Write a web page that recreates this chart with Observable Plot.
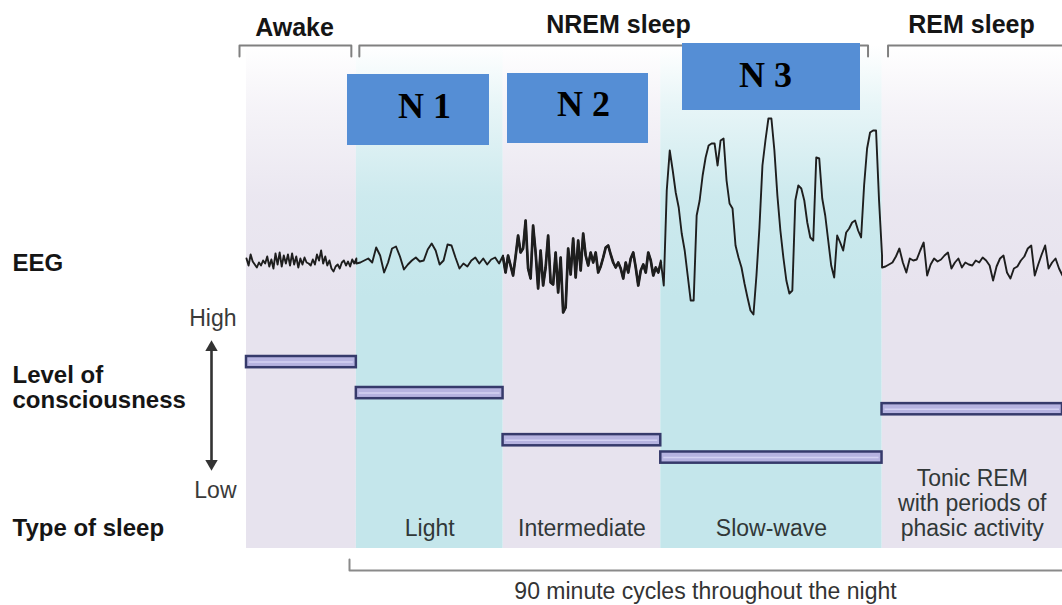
<!DOCTYPE html>
<html><head><meta charset="utf-8">
<script src="https://cdn.jsdelivr.net/npm/d3@7"></script>
<script src="https://cdn.jsdelivr.net/npm/@observablehq/plot@0.6"></script>
<style>html,body{margin:0;padding:0;background:#fff;} #chart svg{display:block;}</style>
</head><body><div id="chart"></div>
<script>
// ---------- data ----------
const stageNames = ["Awake", "Light", "Intermediate", "Slow-wave", "REM"];
const stageStartMin = [-14, 0, 18.7, 38.8, 67];   // minutes into the 90-minute cycle
const stageEndMin = [0, 18.7, 38.8, 67, 90];
const stageTone = ["lav", "cyan", "lav", "cyan", "lav"];
const consciousnessLevel = [85, 60, 22, 8, 47];  // 0 = Low, 100 = High
const sleepTypeLabels = ["", "Light", "Intermediate", "Slow-wave", "Tonic REM\nwith periods of\nphasic activity"];

const groupLabels = ["Awake", "NREM sleep", "REM sleep"];
const groupFirstStage = [0, 1, 4];
const groupLastStage = [0, 3, 4];

const phaseLabels = ["N 1", "N 2", "N 3"];
const rowLabels = ["EEG", "Level of\nconsciousness", "Type of sleep"];
const levelLabels = ["High", "Low"];
const cycleNote = "90 minute cycles throughout the night";

// EEG amplitude per stage (evenly spaced samples, arbitrary µV-like units, up = positive)
const eegAwake = [4,-3,8,1,-2,-5,0,-3,2,-1,6,-4,3,-6,9,-2,10,-4,7,-1,8,-3,9,-2,6,-5,4,-2,5,0,-1,-3,3,-2,8,2,12,-1,6,-3,2,-6,-9,-4,-2,-6,0,2,-3,1,-4,3,-1,4];
const eegLight = [-1,0,2,4,0,15,7,-10,0,14,16,6,-7,-2,2,5,1,2,13,19,12,-2,2,18,17,5,-6,-1,-4,2,5,-1,4,-2,3,5,-1,7];
const eegN2 = [5,-10,7,-3,-13,6,27,10,14,42,-6,-16,37,10,-26,12,-23,-5,27,-20,-22,10,-30,5,-50,-45,14,-12,24,-15,22,-8,29,7,-3,10,0,10,-10,-4,5,15,17,8,0,-5,0,-6,-16,0,-10,4,10,-5,-23,-8,-2,-10,10,2,-13,-5,-10,0];
const eegN3 = [2,-23,72,112,92,70,55,29,12,-13,-38,-38,47,62,87,105,117,119,119,97,122,124,82,59,54,17,5,-5,-21,-35,-48,-52,-13,35,97,122,144,144,112,67,32,5,-18,-31,-28,62,77,74,62,40,25,22,105,104,64,47,22,-3,-15,27,20,12,30,34,40,42,32,25,77,114,130,132,132,62,7];
const eegREM = [-5,-4,-2,0,6,14,0,-10,4,2,3,12,20,-13,-2,4,1,3,7,10,-6,0,4,-5,0,-2,-3,2,0,5,2,-3,-18,-4,4,7,-10,-16,-6,-4,2,6,14,17,-13,-2,8,17,-6,0,4,-6,-13];

// ---------- layout helpers (pixel positions -> scale units) ----------
const PXPM = 816 / 104;
const X = px => -14 + (px - 246) / PXPM;
const Y = px => (467 - px) * 100 / 124;
const EEG_BASE = Y(262);
const EEG_GAIN = 100 / 124;
const BAR_HALF = 5.6 * 100 / 124;

const stageData = stageNames.map((name, i) => ({
  name, start: stageStartMin[i], end: stageEndMin[i], tone: stageTone[i],
  level: consciousnessLevel[i], type: sleepTypeLabels[i]
}));

const eegSeries = [eegAwake, eegLight, eegN2, eegN3, eegREM];
const eegPoints = eegSeries.flatMap((vals, s) => vals.map((v, i) => ({
  stage: s,
  t: stageStartMin[s] + (stageEndMin[s] - stageStartMin[s]) * i / (vals.length - 1),
  v
})));

// brackets
const bracketInsetPx = [[-7, -5], [3, -14], [6, 4]];
const bracketOpenRight = [false, false, true];
const groupLabelPx = [294, 618, 971];
const bracketPts = groupLabels.flatMap((g, i) => {
  const x1 = stageStartMin[groupFirstStage[i]] + bracketInsetPx[i][0] / PXPM;
  const x2 = stageEndMin[groupLastStage[i]] + bracketInsetPx[i][1] / PXPM;
  const pts = [{g, x: x1, y: Y(56)}, {g, x: x1, y: Y(45)}, {g, x: x2, y: Y(45)}];
  if (!bracketOpenRight[i]) pts.push({g, x: x2, y: Y(56)});
  return pts;
});
const groupData = groupLabels.map((g, i) => ({g, x: X(groupLabelPx[i]), y: Y(i === 0 ? 27 : 24.5)}));

// phase boxes
const boxPx = [[347, 489, 74, 145], [507, 648, 73, 143], [682, 860, 43, 110]];
const boxTextPx = [[424, 105.5], [583, 103.5], [765, 74.5]];
const boxData = phaseLabels.map((label, i) => ({
  label, x1: X(boxPx[i][0]), x2: X(boxPx[i][1]), y1: Y(boxPx[i][3]), y2: Y(boxPx[i][2]),
  tx: X(boxTextPx[i][0]), ty: Y(boxTextPx[i][1])
}));

const rowY = [262.5, 386.7, 527.5];
const rowData = rowLabels.map((label, i) => ({label, y: Y(rowY[i])}));
const levelData = [{label: levelLabels[0], y: Y(318.5)}, {label: levelLabels[1], y: Y(490.5)}];

const bottomBracket = [{x: X(349), y: Y(559)}, {x: X(349), y: Y(570)}, {x: 90 + 2 / PXPM, y: Y(570)}];

const baseFont = "'Liberation Sans', Arial, Helvetica, sans-serif";

const chart = Plot.plot({
  width: 1062, height: 605,
  marginTop: 0, marginRight: 0, marginBottom: 0, marginLeft: 0,
  x: {domain: [-14, 90], range: [246, 1062], axis: null},
  y: {domain: [0, 100], range: [467, 343], axis: null},
  style: {background: "white", fontFamily: baseFont, overflow: "visible"},
  marks: [
    // background bands
    Plot.rect(stageData.filter(d => d.tone === "lav"), {x1: "start", x2: "end", y1: Y(548), y2: Y(45), fill: "url(#gLav)"}),
    Plot.rect(stageData.filter(d => d.tone === "cyan"), {x1: "start", x2: "end", y1: Y(548), y2: Y(45), fill: "url(#gCyan)"}),
    // sleep type labels
    Plot.text(stageData.filter(d => d.type), {
      x: d => (d.start + d.end) / 2,
      y: d => Y(527 - (d.type.split("\n").length - 1) * 12.5),
      text: "type", fontSize: 23, fill: "#313838", lineHeight: 25 / 23, lineAnchor: "middle"
    }),
    // consciousness bars
    Plot.rect(stageData, {x1: "start", x2: "end", y1: d => d.level - BAR_HALF, y2: d => d.level + BAR_HALF,
      fill: "#b6b3e0", stroke: "#363a6b", strokeWidth: 2.5}),
    Plot.ruleY(stageData, {x1: "start", x2: "end", y: "level", stroke: "#d4d2f3", strokeWidth: 1.5, insetLeft: 3, insetRight: 3}),
    // EEG trace
    Plot.line(eegPoints, {x: "t", y: d => EEG_BASE + d.v * EEG_GAIN, stroke: "#1e1e1e", strokeWidth: 1.9, strokeLinejoin: "round"}),
    Plot.line(eegPoints.filter(d => d.stage === 2), {x: "t", y: d => EEG_BASE + d.v * EEG_GAIN, stroke: "#1e1e1e", strokeWidth: 2.7, strokeLinejoin: "round"}),
    // level arrow
    Plot.ruleX([X(211)], {y1: Y(350), y2: Y(460), stroke: "#333", strokeWidth: 2.6}),
    Plot.dot([{y: Y(347), r: 0}, {y: Y(463), r: 180}], {x: X(211), y: "y", rotate: "r", symbol: "triangle", r: 4.6, fill: "#333", stroke: "none"}),
    Plot.text(levelData, {x: X(236), y: "y", text: "label", textAnchor: "end", fontSize: 23, fill: "#3a3a3a"}),
    // row labels
    Plot.text(rowData, {frameAnchor: "left", dx: 12, y: "y", text: "label", textAnchor: "start", fontSize: 24, fontWeight: "bold", fill: "#151515", lineHeight: 25 / 24}),
    // top brackets + labels
    Plot.line(bracketPts, {x: "x", y: "y", z: "g", stroke: "#808080", strokeWidth: 2}),
    Plot.text(groupData, {x: "x", y: "y", text: "g", fontSize: 25, fontWeight: "bold", fill: "#151515"}),
    // phase boxes
    Plot.rect(boxData, {x1: "x1", x2: "x2", y1: "y1", y2: "y2", fill: "#558ed5"}),
    Plot.text(boxData, {x: "tx", y: "ty", text: "label", fontSize: 36, fontWeight: "bold", fill: "#000",
      fontFamily: "'Liberation Serif', 'Times New Roman', serif"}),
    // bottom bracket + note
    Plot.line(bottomBracket, {x: "x", y: "y", stroke: "#8a8a8a", strokeWidth: 2}),
    Plot.text([cycleNote], {x: X(705), y: Y(591), text: d => d, fontSize: 23, fill: "#333"})
  ]
});

// gradients for the fading background bands
const svgSel = d3.select(chart);
const defs = svgSel.insert("defs", ":first-child");
function grad(id, color) {
  const g = defs.append("linearGradient").attr("id", id).attr("x1", 0).attr("y1", 0).attr("x2", 0).attr("y2", 1);
  [[0, 0], [0.12, 0.4], [0.3, 0.85], [0.5, 1], [1, 1]].forEach(([o, a]) =>
    g.append("stop").attr("offset", o).attr("stop-color", color).attr("stop-opacity", a));
}
grad("gLav", "#e7e3ee");
grad("gCyan", "#c4e6eb");

document.getElementById("chart").appendChild(chart);
</script></body></html>
